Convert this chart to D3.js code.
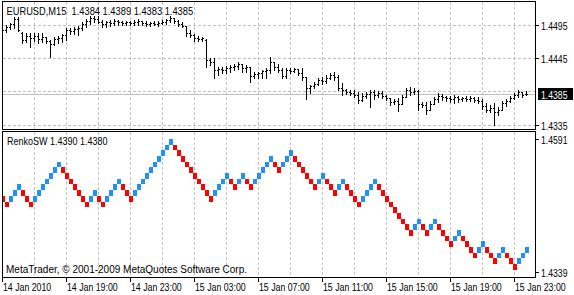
<!DOCTYPE html>
<html><head><meta charset="utf-8">
<script src="https://cdn.jsdelivr.net/npm/d3@7"></script>
<style>
html,body{margin:0;padding:0;background:#fff;}
svg{display:block;}
.reg{font-family:"Liberation Sans",Arial,sans-serif;}
</style></head><body>
<svg id="c" width="574" height="295"></svg>
<script>
// ---------- DATA ----------
const symbolName = "EURUSD,M15";
const barOpen = [1.4481,1.4487,1.4492,1.4497,1.4505,1.4482,1.4471,1.4477,1.4474,1.4477,
1.4473,1.4476,1.4469,1.4465,1.4473,1.4474,1.4479,1.4487,1.4485,1.4489,
1.4490,1.4497,1.4501,1.4506,1.4505,1.4500,1.4497,1.4500,1.4498,1.4501,
1.4500,1.4498,1.4500,1.4498,1.4500,1.4501,1.4498,1.4497,1.4498,1.4497,
1.4498,1.4500,1.4503,1.4506,1.4501,1.4497,1.4493,1.4482,1.4479,1.4474,
1.4473,1.4471,1.4439,1.4436,1.4423,1.4425,1.4423,1.4426,1.4428,1.4429,
1.4433,1.4426,1.4428,1.4413,1.4417,1.4418,1.4421,1.4423,1.4436,1.4428,
1.4423,1.4413,1.4423,1.4421,1.4425,1.4418,1.4412,1.4394,1.4397,1.4401,
1.4407,1.4405,1.4410,1.4415,1.4412,1.4394,1.4391,1.4388,1.4386,1.4383,
1.4375,1.4381,1.4385,1.4388,1.4383,1.4386,1.4381,1.4378,1.4372,1.4373,
1.4369,1.4380,1.4391,1.4388,1.4389,1.4369,1.4367,1.4359,1.4369,1.4377,
1.4381,1.4380,1.4378,1.4377,1.4380,1.4377,1.4378,1.4377,1.4378,1.4375,
1.4373,1.4365,1.4359,1.4362,1.4356,1.4359,1.4370,1.4373,1.4378,1.4383,
1.4388,1.4384];
const barHigh = [1.4490,1.4495,1.4498,1.4508,1.4508,1.4484,1.4482,1.4482,1.4482,1.4482,
1.4482,1.4476,1.4471,1.4476,1.4477,1.4481,1.4490,1.4490,1.4492,1.4493,
1.4500,1.4505,1.4509,1.4509,1.4509,1.4503,1.4501,1.4503,1.4505,1.4503,
1.4501,1.4501,1.4501,1.4503,1.4505,1.4501,1.4501,1.4500,1.4501,1.4501,
1.4503,1.4505,1.4509,1.4506,1.4503,1.4500,1.4493,1.4487,1.4481,1.4477,
1.4476,1.4473,1.4442,1.4442,1.4428,1.4428,1.4429,1.4431,1.4433,1.4436,
1.4433,1.4431,1.4428,1.4420,1.4420,1.4423,1.4426,1.4444,1.4436,1.4433,
1.4426,1.4426,1.4426,1.4426,1.4425,1.4426,1.4412,1.4399,1.4404,1.4410,
1.4412,1.4415,1.4418,1.4420,1.4415,1.4402,1.4393,1.4391,1.4391,1.4388,
1.4386,1.4388,1.4391,1.4391,1.4389,1.4389,1.4383,1.4378,1.4377,1.4378,
1.4383,1.4394,1.4396,1.4394,1.4391,1.4372,1.4372,1.4373,1.4380,1.4386,
1.4385,1.4381,1.4381,1.4383,1.4381,1.4380,1.4381,1.4381,1.4380,1.4380,
1.4377,1.4370,1.4367,1.4370,1.4364,1.4373,1.4377,1.4381,1.4386,1.4391,
1.4388,1.4389];
const barLow = [1.4479,1.4484,1.4489,1.4490,1.4485,1.4466,1.4468,1.4460,1.4469,1.4466,
1.4468,1.4466,1.4444,1.4463,1.4466,1.4468,1.4471,1.4481,1.4481,1.4479,
1.4487,1.4492,1.4497,1.4500,1.4498,1.4492,1.4492,1.4493,1.4495,1.4495,
1.4495,1.4495,1.4495,1.4495,1.4495,1.4495,1.4493,1.4493,1.4495,1.4493,
1.4497,1.4497,1.4500,1.4498,1.4493,1.4492,1.4477,1.4476,1.4469,1.4469,
1.4469,1.4428,1.4431,1.4410,1.4415,1.4418,1.4418,1.4420,1.4423,1.4425,
1.4420,1.4420,1.4404,1.4410,1.4410,1.4410,1.4410,1.4418,1.4423,1.4420,
1.4410,1.4410,1.4418,1.4420,1.4415,1.4407,1.4377,1.4386,1.4394,1.4399,
1.4401,1.4402,1.4409,1.4407,1.4391,1.4383,1.4385,1.4383,1.4380,1.4370,
1.4373,1.4378,1.4364,1.4377,1.4380,1.4378,1.4375,1.4367,1.4369,1.4357,
1.4369,1.4380,1.4383,1.4385,1.4359,1.4364,1.4353,1.4359,1.4369,1.4372,
1.4375,1.4373,1.4372,1.4370,1.4372,1.4373,1.4373,1.4373,1.4372,1.4370,
1.4361,1.4356,1.4356,1.4335,1.4351,1.4359,1.4365,1.4372,1.4377,1.4380,
1.4380,1.4383];
const barClose = [1.4487,1.4492,1.4497,1.4505,1.4487,1.4471,1.4477,1.4474,1.4477,1.4473,
1.4476,1.4469,1.4465,1.4473,1.4474,1.4479,1.4487,1.4485,1.4489,1.4490,
1.4497,1.4501,1.4506,1.4505,1.4500,1.4497,1.4500,1.4498,1.4501,1.4500,
1.4498,1.4500,1.4498,1.4500,1.4501,1.4498,1.4497,1.4498,1.4497,1.4498,
1.4500,1.4503,1.4506,1.4501,1.4497,1.4493,1.4482,1.4479,1.4474,1.4473,
1.4474,1.4439,1.4436,1.4423,1.4425,1.4423,1.4426,1.4428,1.4429,1.4433,
1.4426,1.4428,1.4413,1.4417,1.4418,1.4421,1.4423,1.4436,1.4428,1.4423,
1.4413,1.4423,1.4421,1.4425,1.4418,1.4412,1.4394,1.4397,1.4401,1.4407,
1.4405,1.4410,1.4415,1.4412,1.4394,1.4391,1.4388,1.4386,1.4383,1.4375,
1.4381,1.4385,1.4388,1.4383,1.4386,1.4381,1.4378,1.4372,1.4373,1.4369,
1.4380,1.4391,1.4388,1.4389,1.4369,1.4367,1.4359,1.4369,1.4377,1.4381,
1.4380,1.4378,1.4377,1.4380,1.4377,1.4378,1.4377,1.4378,1.4375,1.4373,
1.4365,1.4359,1.4362,1.4356,1.4359,1.4370,1.4373,1.4378,1.4383,1.4388,
1.4383,1.4385];

const renkoName = "RenkoSW";
const renkoBrick = 0.0010;
const renkoLow = [1.447,1.446,1.447,1.448,1.449,1.448,1.447,1.446,1.447,1.448,
1.449,1.450,1.451,1.452,1.453,1.452,1.451,1.450,1.449,1.448,
1.447,1.446,1.447,1.448,1.447,1.446,1.447,1.448,1.449,1.450,
1.449,1.448,1.447,1.448,1.449,1.450,1.451,1.452,1.453,1.454,
1.455,1.456,1.457,1.456,1.455,1.454,1.453,1.452,1.451,1.450,
1.449,1.448,1.447,1.448,1.449,1.450,1.451,1.450,1.449,1.450,
1.451,1.450,1.449,1.450,1.451,1.452,1.453,1.454,1.453,1.452,
1.453,1.454,1.455,1.454,1.453,1.452,1.451,1.450,1.449,1.450,
1.451,1.450,1.449,1.448,1.449,1.450,1.449,1.448,1.447,1.446,
1.447,1.448,1.449,1.450,1.449,1.448,1.447,1.446,1.445,1.444,
1.443,1.442,1.441,1.442,1.443,1.442,1.441,1.442,1.443,1.442,
1.441,1.440,1.439,1.440,1.441,1.440,1.439,1.438,1.437,1.438,
1.439,1.438,1.437,1.436,1.437,1.438,1.437,1.436,1.435,1.436,
1.437,1.438];
const renkoUp = [0,0,1,1,1,0,0,0,1,1,
1,1,1,1,1,0,0,0,0,0,
0,0,1,1,0,0,1,1,1,1,
0,0,0,1,1,1,1,1,1,1,
1,1,1,0,0,0,0,0,0,0,
0,0,0,1,1,1,1,0,0,1,
1,0,0,1,1,1,1,1,0,0,
1,1,1,0,0,0,0,0,0,1,
1,0,0,0,1,1,0,0,0,0,
1,1,1,1,0,0,0,0,0,0,
0,0,0,1,1,0,0,1,1,0,
0,0,0,1,1,0,0,0,0,1,
1,0,0,0,1,1,0,0,0,1,
1,1];

const topGridPrices = [1.4495, 1.4443, 1.4390, 1.4335];
const topLabelPrices = [1.4495, 1.4443, 1.4335];
const topLabels = ["1.4495", "1.4445", "1.4335"];
const renkoScaleMin = 1.4339, renkoScaleMax = 1.4591;
const timeTickIndex = [0, 16, 32, 48, 64, 80, 96, 112, 128];
const timeTickLabels = ["14 Jan 2010","14 Jan 19:00","14 Jan 23:00","15 Jan 03:00","15 Jan 07:00","15 Jan 11:00","15 Jan 15:00","15 Jan 19:00","15 Jan 23:00"];
const copyrightText = "MetaTrader, \u00A9 2001-2009 MetaQuotes Software Corp.";

// ---------- LAYOUT ----------
const svg = d3.select('#c');
const L = 2.5, R = 535.5;
const topBox = {y0: 1.5, y1: 129.5};
const botBox = {y0: 131.5, y1: 277.5};
const gridCol = "#c0c0c0";
const upCol = "#1e90ff", dnCol = "#ff0000";
const n = barClose.length;

const x = d3.scaleLinear().domain([0, 131]).range([2.5, 526.5]);
const yTop = d3.scaleLinear().domain([1.4335, 1.4495]).range([125, 25]);
const yRen = d3.scaleLinear().domain([renkoScaleMin, renkoScaleMax]).range([276, 132.7]);

// narrow (Tahoma-like) text: Liberation Sans squeezed horizontally
function ntext(parent, tx, ty, str, sx, fill) {
  return parent.append('text')
    .attr('class', 'reg')
    .attr('transform', `translate(${tx},${ty}) scale(${sx},1)`)
    .attr('font-size', '10.7px')
    .attr('fill', fill || '#000')
    .style('white-space', 'pre')
    .text(str);
}

const defs = svg.append('defs');
defs.append('clipPath').attr('id','clipTop').append('rect')
  .attr('x', L+0.5).attr('y', topBox.y0+0.5).attr('width', R-L-1).attr('height', topBox.y1-topBox.y0-1);
defs.append('clipPath').attr('id','clipBot').append('rect')
  .attr('x', L+0.5).attr('y', botBox.y0+0.5).attr('width', R-L-1).attr('height', botBox.y1-botBox.y0-1);

svg.append('rect').attr('width',574).attr('height',295).attr('fill','#fff');

const gTop = svg.append('g').attr('clip-path','url(#clipTop)');
const gBot = svg.append('g').attr('clip-path','url(#clipBot)');

// vertical grid
const vgrid = d3.range(8, n, 8);
[[gTop, topBox],[gBot, botBox]].forEach(([g, b]) => {
  g.selectAll(null).data(vgrid).join('line')
    .attr('x1', d => x(d)).attr('x2', d => x(d))
    .attr('y1', b.y0).attr('y2', b.y1)
    .attr('stroke', gridCol).attr('stroke-dasharray','3,2')
    .attr('shape-rendering','crispEdges');
});
// horizontal grid top
gTop.selectAll(null).data(topGridPrices).join('line')
  .attr('x1', L).attr('x2', R)
  .attr('y1', d => Math.round(yTop(d)) + 0.5).attr('y2', d => Math.round(yTop(d)) + 0.5)
  .attr('stroke', gridCol).attr('stroke-dasharray','3,2')
  .attr('shape-rendering','crispEdges');

// bid line
const lastClose = barClose[n-1];
const bidY = Math.round(yTop(lastClose)) + 0.5;
gTop.append('line').attr('x1', L).attr('x2', R).attr('y1', bidY).attr('y2', bidY)
  .attr('stroke', gridCol).attr('shape-rendering','crispEdges');

// OHLC bars
const bars = gTop.selectAll('g.bar').data(d3.range(n)).join('g').attr('class','bar');
bars.append('rect')
  .attr('x', i => x(i) - 0.5)
  .attr('y', i => Math.round(yTop(barHigh[i])))
  .attr('width', 1)
  .attr('height', i => Math.max(1, Math.round(yTop(barLow[i])) - Math.round(yTop(barHigh[i])) + 1))
  .attr('fill', '#000').attr('shape-rendering','crispEdges');
bars.append('rect')
  .attr('x', i => x(i) - 1.5).attr('y', i => Math.round(yTop(barOpen[i])))
  .attr('width', 1).attr('height', 1).attr('fill', '#000').attr('shape-rendering','crispEdges');
bars.append('rect')
  .attr('x', i => x(i) + 0.5).attr('y', i => Math.round(yTop(barClose[i])))
  .attr('width', 1).attr('height', 1).attr('fill', '#000').attr('shape-rendering','crispEdges');

// Renko bricks
gBot.selectAll('rect.brick').data(d3.range(renkoLow.length)).join('rect').attr('class','brick')
  .attr('x', i => x(i) - 1.5)
  .attr('width', 4)
  .attr('y', i => Math.round(yRen(renkoLow[i] + renkoBrick)))
  .attr('height', i => Math.round(yRen(renkoLow[i])) - Math.round(yRen(renkoLow[i] + renkoBrick)))
  .attr('fill', i => renkoUp[i] ? upCol : dnCol)
  .attr('shape-rendering','crispEdges');

// frames
[topBox, botBox].forEach(b => {
  svg.append('rect').attr('x', L).attr('y', b.y0).attr('width', R-L).attr('height', b.y1-b.y0)
    .attr('fill','none').attr('stroke','#000').attr('shape-rendering','crispEdges');
});

// right price labels (top)
topLabelPrices.forEach((p, k) => {
  const yy = Math.round(yTop(p)) + 0.5;
  svg.append('line').attr('x1', R).attr('x2', R+3.5).attr('y1', yy).attr('y2', yy)
    .attr('stroke','#000').attr('shape-rendering','crispEdges');
  ntext(svg, 541, yy + 4, topLabels[k], 0.81);
});
// bid box
svg.append('rect').attr('x', 538).attr('y', bidY - 6.5).attr('width', 35).attr('height', 12).attr('fill','#000');
ntext(svg, 541, bidY + 4, lastClose.toFixed(4), 0.81, '#fff');

// renko right labels
[[renkoScaleMax, yRen(renkoScaleMax) + 6.5],[renkoScaleMin, yRen(renkoScaleMin) - 4.5]].forEach(([p, yy]) => {
  const ly = Math.round(yy) + 0.5;
  svg.append('line').attr('x1', R).attr('x2', R+3.5).attr('y1', ly).attr('y2', ly)
    .attr('stroke','#000').attr('shape-rendering','crispEdges');
  ntext(svg, 541, ly + 4, p.toFixed(4), 0.81);
});

// time axis
timeTickIndex.forEach((ti, k) => {
  const tx = x(ti);
  svg.append('line').attr('x1', tx).attr('x2', tx).attr('y1', botBox.y1).attr('y2', botBox.y1 + 4)
    .attr('stroke','#000').attr('shape-rendering','crispEdges');
  ntext(svg, tx + 0.5, 291, timeTickLabels[k], 0.82);
});

// titles
const ohlc = [barOpen[n-1], barHigh[n-1], barLow[n-1], barClose[n-1]].map(v => v.toFixed(4)).join(' ');
ntext(svg, 6.5, 15, symbolName + '  ' + ohlc, 0.87);
const lastR = renkoLow.length - 1;
ntext(svg, 7, 145, renkoName + ' ' + (renkoLow[lastR] + renkoBrick).toFixed(4) + ' ' + renkoLow[lastR].toFixed(4), 0.84);
svg.append('text').attr('class','reg').attr('x', 6).attr('y', 273).attr('font-size', '10px')
  .text(copyrightText);
</script>
</body></html>
